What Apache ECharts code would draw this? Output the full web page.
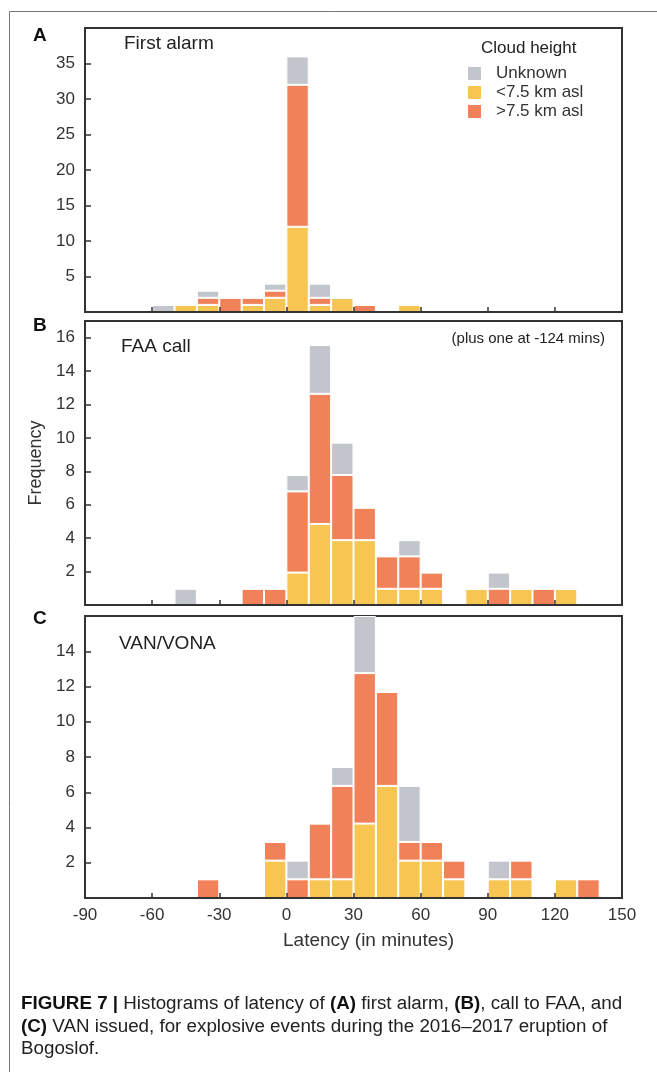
<!DOCTYPE html>
<html>
<head>
<meta charset="utf-8">
<script src="https://cdn.jsdelivr.net/npm/echarts@6/dist/echarts.min.js"></script>
<style>
    html, body { margin: 0; padding: 0; background: #fff; }
    #main { width: 657px; height: 1072px; }
</style>
</head>
<body>
<div id="main"></div>
<script>
// 10-minute latency bins, labelled by their start
var bins = ['-90', '-80', '-70', '-60', '-50', '-40', '-30', '-20', '-10', '0', '10', '20',
    '30', '40', '50', '60', '70', '80', '90', '100', '110', '120', '130', '140'];
var xTicks = [-90, 150, 30]; // min, max, step

// A: first alarm
var yellowA = [0, 0, 0, 0, 1, 1, 0, 1, 2, 12, 1, 2, 0, 0, 1, 0, 0, 0, 0, 0, 0, 0, 0, 0];
var orangeA = [0, 0, 0, 0, 0, 1, 2, 1, 1, 20, 1, 0, 1, 0, 0, 0, 0, 0, 0, 0, 0, 0, 0, 0];
var greyA = [0, 0, 0, 1, 0, 1, 0, 0, 1, 4, 2, 0, 0, 0, 0, 0, 0, 0, 0, 0, 0, 0, 0, 0];
// B: FAA call
var yellowB = [0, 0, 0, 0, 0, 0, 0, 0, 0, 1.94, 4.85, 3.88, 3.88, 0.97, 0.97, 0.97, 0, 0.97, 0, 0.97, 0, 0.97, 0, 0];
var orangeB = [0, 0, 0, 0, 0, 0, 0, 0.97, 0.97, 4.86, 7.79, 3.9, 1.94, 1.94, 1.94, 0.97, 0, 0, 0.97, 0, 0.97, 0, 0, 0];
var greyB = [0, 0, 0, 0, 0.97, 0, 0, 0, 0, 0.98, 2.92, 1.94, 0, 0, 0.97, 0, 0, 0, 0.97, 0, 0, 0, 0, 0];
// C: VAN/VONA
var yellowC = [0, 0, 0, 0, 0, 0, 0, 0, 2.12, 0, 1.06, 1.06, 4.22, 6.36, 2.12, 2.12, 1.06, 0, 1.06, 1.06, 0, 1.06, 0, 0];
var orangeC = [0, 0, 0, 0, 0, 1.06, 0, 0, 1.06, 1.06, 3.16, 5.3, 8.54, 5.33, 1.06, 1.06, 1.06, 0, 0, 1.06, 0, 0, 1.06, 0];
var greyC = [0, 0, 0, 0, 0, 0, 0, 0, 0, 1.06, 0, 1.07, 3.24, 0, 3.18, 0, 0, 0, 1.06, 0, 0, 0, 0, 0];

var yMax = [40, 17, 16],
    yStep = [5, 2, 2];

var font = "'Liberation Sans', Arial, sans-serif",
    ink = '#333',
    colors = {
        'Unknown': '#c2c6cc',
        '<7.5 km asl': '#f7c552',
        '>7.5 km asl': '#f08158'
    };

var chart = echarts.init(document.getElementById('main'));
window.addEventListener('resize', function() {
    chart.resize();
});

var grids = [
    { left: 85, right: 35, top: 28, height: 284 },
    { left: 85, right: 35, top: 321, height: 284 },
    { left: 85, right: 35, top: 616, height: 282 }
];

var xAxes = [], yAxes = [], series = [];
var panels = [
    [yellowA, orangeA, greyA],
    [yellowB, orangeB, greyB],
    [yellowC, orangeC, greyC]
];
var names = ['<7.5 km asl', '>7.5 km asl', 'Unknown'];

for (var i = 0; i < 3; i++) {
    grids[i].show = true;
    grids[i].borderColor = ink;
    grids[i].borderWidth = 2;
    xAxes.push({
        gridIndex: i,
        type: 'category',
        data: bins,
        position: 'top',
        show: false
    });
    xAxes.push({
        gridIndex: i,
        type: 'value',
        position: 'bottom',
        min: xTicks[0],
        max: xTicks[1],
        interval: xTicks[2],
        z: 10,
        axisLine: { onZero: false, lineStyle: { color: ink, width: 2 } },
        axisTick: { inside: true, length: 5, lineStyle: { color: ink, width: 1.5 } },
        splitLine: { show: false },
        axisLabel: { show: i === 2, margin: 9, color: ink, fontSize: 17, fontFamily: font }
    });
    yAxes.push({
        gridIndex: i,
        type: 'value',
        min: 0,
        max: yMax[i],
        interval: yStep[i],
        z: 10,
        axisLine: { show: true, onZero: false, lineStyle: { color: ink, width: 2 } },
        axisTick: { show: true, inside: true, length: 6, lineStyle: { color: ink, width: 1.5 } },
        splitLine: { show: false },
        axisLabel: {
            margin: 10,
            color: ink,
            fontSize: 17,
            fontFamily: font,
            formatter: (function(top) {
                return function(v) {
                    return v > 0 && v < top ? v : '';
                };
            })(yMax[i])
        },
        name: i === 1 ? 'Frequency' : '',
        nameLocation: 'middle',
        nameRotate: 90,
        nameGap: 37,
        nameTextStyle: { color: ink, fontSize: 18, fontFamily: font }
    });
    for (var k = 0; k < 3; k++) {
        series.push({
            name: names[k],
            type: 'bar',
            stack: 'panel' + i,
            xAxisIndex: i * 2,
            yAxisIndex: i,
            barCategoryGap: '0%',
            data: panels[i][k],
            itemStyle: { color: colors[names[k]], borderColor: '#fff', borderWidth: 1 },
            emphasis: { disabled: true }
        });
    }
}

var capRich = {
    b: { font: 'bold 18.8px ' + font, fill: '#111' }
};

var option = {
    animation: false,
    backgroundColor: '#fff',
    grid: grids,
    xAxis: xAxes,
    yAxis: yAxes,
    series: series,
    legend: {
        data: ['Unknown', '<7.5 km asl', '>7.5 km asl'],
        orient: 'vertical',
        left: 466,
        top: 65,
        padding: 0,
        icon: 'rect',
        itemWidth: 15,
        itemHeight: 15,
        itemGap: 2,
        selectedMode: false,
        textStyle: { color: ink, fontSize: 17, fontFamily: font, lineHeight: 17, padding: [0, 0, 0, 9] }
    },
    graphic: [
        { type: 'rect', left: 7, top: 9, shape: { width: 700, height: 1100 }, style: { fill: 'none', stroke: '#777', lineWidth: 1 } },
        { type: 'text', left: 33, top: 26, style: { text: 'A', font: 'bold 19px ' + font, fill: '#111' } },
        { type: 'text', left: 33, top: 316, style: { text: 'B', font: 'bold 19px ' + font, fill: '#111' } },
        { type: 'text', left: 33, top: 609, style: { text: 'C', font: 'bold 19px ' + font, fill: '#111' } },
        { type: 'text', left: 124, top: 34, style: { text: 'First alarm', font: '19px ' + font, fill: '#222' } },
        { type: 'text', left: 121, top: 337, style: { text: 'FAA call', font: '19px ' + font, fill: '#222' } },
        { type: 'text', left: 119, top: 634, style: { text: 'VAN/VONA', font: '19px ' + font, fill: '#222' } },
        { type: 'text', right: 52, top: 331, style: { text: '(plus one at -124 mins)', font: '15px ' + font, fill: '#222' } },
        { type: 'text', left: 481, top: 40, style: { text: 'Cloud height', font: '17px ' + font, fill: '#222' } },
        { type: 'text', left: 283, top: 931, style: { text: 'Latency (in minutes)', font: '19px ' + font, fill: ink } },
        { type: 'text', left: 21, top: 994, style: { text: '{b|FIGURE 7 |} Histograms of latency of {b|(A)} first alarm, {b|(B)}, call to FAA, and', font: '18.8px ' + font, fill: '#222', rich: capRich } },
        { type: 'text', left: 21, top: 1017, style: { text: '{b|(C)} VAN issued, for explosive events during the 2016\u20132017 eruption of', font: '18.8px ' + font, fill: '#222', rich: capRich } },
        { type: 'text', left: 21, top: 1039, style: { text: 'Bogoslof.', font: '18.8px ' + font, fill: '#222' } }
    ]
};
chart.setOption(option);
</script>
</body>
</html>
